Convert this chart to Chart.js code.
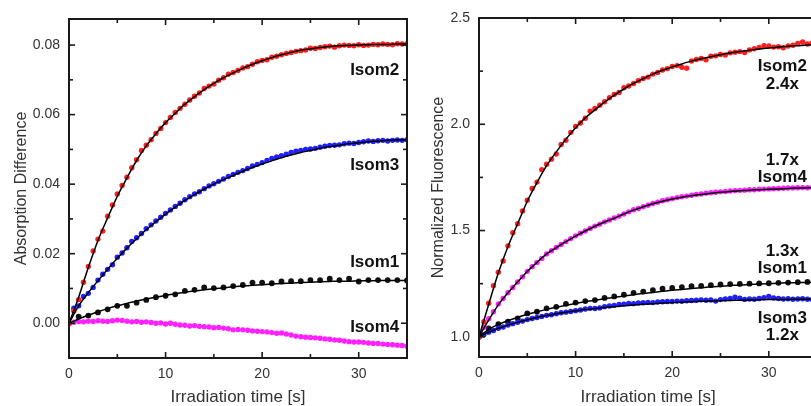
<!DOCTYPE html>
<html>
<head>
<meta charset="utf-8">
<script src="https://cdn.jsdelivr.net/npm/chart.js@4.4.1/dist/chart.umd.min.js"></script>
<style>
  html, body { margin:0; padding:0; background:#fff; }
  #wrap { position:relative; width:811px; height:406px; overflow:hidden; background:#fff; }
  #c1 { position:absolute; left:0; top:0; }
  #c2 { position:absolute; left:410px; top:0; }
</style>
</head>
<body>
<div id="wrap">
  <canvas id="c1" width="410" height="406"></canvas>
  <canvas id="c2" width="410" height="406"></canvas>
</div>
<script>
// ---------- sampling times (s) ----------
const tDense = [0,0.5,1,1.5,2,2.5,3,3.5,4,4.5,5,5.5,6,6.5,7,7.5,8,8.5,9,9.5,10,10.5,11,11.5,12,12.5,13,13.5,14,14.5,15,15.5,16,16.5,17,17.5,18,18.5,19,19.5,20,20.5,21,21.5,22,22.5,23,23.5,24,24.5,25,25.5,26,26.5,27,27.5,28,28.5,29,29.5,30,30.5,31,31.5,32,32.5,33,33.5,34,34.5,35];
const tSparse = [0,1,2,3,4,5,6,7,8,9,10,11,12,13,14,15,16,17,18,19,20,21,22,23,24,25,26,27,28,29,30,31,32,33,34,35];

// ---------- left panel: absorption difference ----------
const absIsom2 = [0.0000,0.0035,0.0068,0.0118,0.0163,0.0208,0.0242,0.0265,0.0308,0.0340,0.0372,0.0396,0.0420,0.0447,0.0470,0.0497,0.0512,0.0528,0.0546,0.0560,0.0577,0.0592,0.0606,0.0618,0.0630,0.0642,0.0653,0.0662,0.0675,0.0682,0.0688,0.0699,0.0706,0.0716,0.0721,0.0727,0.0734,0.0738,0.0745,0.0752,0.0756,0.0758,0.0765,0.0768,0.0772,0.0776,0.0779,0.0782,0.0784,0.0786,0.0791,0.0790,0.0793,0.0795,0.0797,0.0794,0.0798,0.0800,0.0799,0.0798,0.0801,0.0799,0.0800,0.0802,0.0801,0.0803,0.0802,0.0801,0.0804,0.0803,0.0804];
const absIsom3 = [0.0000,0.0043,0.0050,0.0077,0.0086,0.0103,0.0124,0.0141,0.0155,0.0168,0.0190,0.0202,0.0217,0.0235,0.0246,0.0258,0.0272,0.0283,0.0294,0.0305,0.0316,0.0326,0.0336,0.0345,0.0355,0.0364,0.0372,0.0378,0.0387,0.0395,0.0401,0.0408,0.0415,0.0422,0.0428,0.0434,0.0439,0.0445,0.0452,0.0457,0.0462,0.0468,0.0474,0.0478,0.0482,0.0486,0.0491,0.0495,0.0497,0.0500,0.0501,0.0503,0.0506,0.0509,0.0511,0.0512,0.0513,0.0516,0.0518,0.0517,0.0520,0.0522,0.0524,0.0523,0.0525,0.0526,0.0524,0.0526,0.0527,0.0526,0.0528];
const absIsom4 = [0.0000,0.0003,0.0005,0.0004,0.0006,0.0005,0.0007,0.0006,0.0005,0.0007,0.0009,0.0008,0.0006,0.0004,0.0005,0.0003,0.0004,0.0002,0.0000,0.0001,-0.0002,0.0000,-0.0003,-0.0005,-0.0006,-0.0008,-0.0007,-0.0009,-0.0010,-0.0011,-0.0013,-0.0012,-0.0014,-0.0016,-0.0019,-0.0018,-0.0019,-0.0020,-0.0022,-0.0023,-0.0024,-0.0025,-0.0027,-0.0029,-0.0028,-0.0031,-0.0034,-0.0037,-0.0039,-0.0040,-0.0041,-0.0042,-0.0043,-0.0045,-0.0046,-0.0048,-0.0049,-0.0051,-0.0053,-0.0054,-0.0054,-0.0055,-0.0057,-0.0058,-0.0058,-0.0060,-0.0061,-0.0062,-0.0063,-0.0064,-0.0066];
const absIsom1 = [0.0000,0.0019,0.0022,0.0031,0.0040,0.0050,0.0050,0.0059,0.0067,0.0075,0.0079,0.0083,0.0093,0.0096,0.0103,0.0101,0.0103,0.0107,0.0110,0.0117,0.0117,0.0115,0.0120,0.0121,0.0121,0.0124,0.0124,0.0128,0.0124,0.0128,0.0120,0.0124,0.0124,0.0124,0.0124,0.0123];
const absFit2 = [0,0.0075,0.0160,0.0238,0.0303,0.0365,0.0418,0.0468,0.0510,0.0545,0.0577,0.0604,0.0630,0.0652,0.0672,0.0690,0.0706,0.0720,0.0733,0.0745,0.0755,0.0764,0.0772,0.0779,0.0785,0.0789,0.0793,0.0796,0.0798,0.0799,0.0800,0.0801,0.0802,0.0802,0.0803,0.0803];
const absFit3 = [0,0.0050,0.0088,0.0122,0.0155,0.0187,0.0216,0.0243,0.0269,0.0292,0.0314,0.0334,0.0353,0.0370,0.0386,0.0400,0.0413,0.0425,0.0437,0.0448,0.0458,0.0467,0.0476,0.0484,0.0491,0.0497,0.0503,0.0508,0.0512,0.0516,0.0519,0.0522,0.0524,0.0526,0.0527,0.0528];
const absFit1 = [0,0.0012,0.0023,0.0033,0.0042,0.0050,0.0057,0.0064,0.0070,0.0075,0.0080,0.0085,0.0089,0.0093,0.0096,0.0099,0.0102,0.0105,0.0107,0.0109,0.0111,0.0113,0.0114,0.0116,0.0117,0.0118,0.0119,0.0120,0.0121,0.0121,0.0122,0.0122,0.0123,0.0123,0.0123,0.0123];

// ---------- right panel: normalized fluorescence ----------
const flIsom2 = [1.000,1.071,1.158,1.240,1.304,1.357,1.428,1.490,1.532,1.592,1.643,1.698,1.728,1.786,1.812,1.836,1.860,1.905,1.925,1.962,1.990,2.006,2.028,2.062,2.074,2.090,2.106,2.125,2.140,2.150,2.172,2.180,2.192,2.205,2.215,2.222,2.236,2.244,2.255,2.262,2.272,2.276,2.268,2.264,2.298,2.305,2.310,2.303,2.320,2.322,2.328,2.326,2.336,2.339,2.342,2.338,2.350,2.355,2.362,2.370,2.368,2.363,2.365,2.360,2.368,2.372,2.380,2.387,2.378,2.383,2.380];
const flIsom4 = [1.000,1.045,1.085,1.118,1.155,1.180,1.207,1.232,1.258,1.282,1.308,1.330,1.350,1.369,1.390,1.405,1.420,1.434,1.448,1.462,1.475,1.487,1.498,1.510,1.521,1.530,1.541,1.550,1.559,1.568,1.578,1.588,1.598,1.604,1.612,1.619,1.627,1.633,1.640,1.645,1.650,1.655,1.659,1.662,1.666,1.670,1.672,1.676,1.678,1.680,1.682,1.684,1.686,1.688,1.689,1.690,1.692,1.692,1.694,1.695,1.696,1.697,1.698,1.699,1.700,1.700,1.701,1.702,1.701,1.703,1.702];
const flIsom3 = [1.000,1.010,1.022,1.030,1.040,1.046,1.055,1.062,1.068,1.074,1.081,1.086,1.091,1.096,1.101,1.104,1.109,1.113,1.116,1.119,1.123,1.126,1.131,1.134,1.133,1.136,1.142,1.145,1.148,1.152,1.154,1.157,1.156,1.159,1.160,1.162,1.161,1.164,1.165,1.166,1.166,1.168,1.167,1.170,1.171,1.172,1.174,1.172,1.173,1.168,1.175,1.178,1.180,1.186,1.182,1.176,1.178,1.177,1.180,1.184,1.190,1.183,1.180,1.178,1.179,1.177,1.178,1.179,1.177,1.176,1.177];
const flIsom1 = [1.000,1.040,1.060,1.071,1.087,1.110,1.118,1.134,1.141,1.155,1.161,1.168,1.173,1.183,1.190,1.198,1.207,1.213,1.220,1.226,1.230,1.234,1.238,1.240,1.243,1.246,1.248,1.249,1.250,1.251,1.252,1.254,1.255,1.257,1.258,1.258];
const flFit2 = [1.000,1.152,1.300,1.425,1.532,1.638,1.725,1.805,1.870,1.930,1.984,2.030,2.068,2.104,2.137,2.166,2.192,2.215,2.236,2.254,2.270,2.284,2.297,2.308,2.318,2.327,2.335,2.342,2.348,2.354,2.359,2.363,2.367,2.370,2.373,2.375];
const flFit4 = [1.000,1.078,1.150,1.207,1.258,1.307,1.350,1.390,1.420,1.448,1.474,1.498,1.520,1.540,1.558,1.578,1.596,1.612,1.626,1.638,1.648,1.657,1.664,1.670,1.675,1.680,1.684,1.687,1.690,1.692,1.694,1.696,1.698,1.700,1.701,1.702];
const flFit1 = [1.000,1.035,1.058,1.076,1.092,1.106,1.118,1.129,1.139,1.148,1.157,1.165,1.172,1.179,1.186,1.192,1.198,1.204,1.209,1.214,1.219,1.223,1.227,1.231,1.235,1.238,1.241,1.244,1.246,1.248,1.250,1.252,1.254,1.255,1.256,1.257];
const flFit3 = [1.000,1.022,1.040,1.055,1.068,1.080,1.091,1.100,1.108,1.116,1.122,1.128,1.133,1.138,1.142,1.146,1.150,1.153,1.156,1.159,1.161,1.163,1.165,1.167,1.169,1.170,1.171,1.172,1.173,1.174,1.175,1.176,1.176,1.177,1.177,1.178];

// ---------- tick labels ----------
const xTicks = [0,10,20,30];
const xMinor = [5,15,25,35];
const absTicks = [0.00,0.02,0.04,0.06,0.08];
const absMinor = [-0.01,0.01,0.03,0.05,0.07];
const flTicks = [1.0,1.5,2.0,2.5];
const flMinor = [1.25,1.75,2.25];

const FONT = "'Liberation Sans', Arial, Helvetica, sans-serif";
const RED = '#ff1f1f', BLUE = '#1f1fff', MAG = '#ff1fff', BLK = '#111111';

function pts(xs, ys){ return ys.map((v,i)=>({x:xs[i], y:v})); }
function dots(xs, ys, color, r){
  return { data: pts(xs,ys), showLine:false, pointRadius:r||2.7, pointHoverRadius:0,
           pointBackgroundColor:color, pointBorderColor:color, pointBorderWidth:0, order:2 };
}
function fit(xs, ys){
  return { data: pts(xs,ys), showLine:true, pointRadius:0, borderColor:'#000', borderWidth:1.5,
           cubicInterpolationMode:'monotone', fill:false, order:1 };
}

const framePlugin = {
  id:'frame',
  afterDatasetsDraw(chart, args, o){
    const {ctx, chartArea:{left,right,top,bottom}, scales:{x,y}} = chart;
    ctx.save();
    ctx.strokeStyle = '#1a1a1a';
    ctx.lineWidth = 2;
    ctx.strokeRect(left, top, right-left, bottom-top);
    ctx.lineWidth = 1.6;
    const seg = (a,b,c,d)=>{ ctx.beginPath(); ctx.moveTo(a,b); ctx.lineTo(c,d); ctx.stroke(); };
    o.xMajor.forEach(v=>{ const p=x.getPixelForValue(v); if(p>left+1&&p<right-1){ seg(p,bottom,p,bottom-6); seg(p,top,p,top+6);} });
    o.xMinor.forEach(v=>{ const p=x.getPixelForValue(v); if(p>left+1&&p<right-1){ seg(p,bottom,p,bottom-4); seg(p,top,p,top+4);} });
    o.yMajor.forEach(v=>{ const p=y.getPixelForValue(v); if(p>top+1&&p<bottom-1){ seg(left,p,left+6,p); seg(right,p,right-6,p);} });
    o.yMinor.forEach(v=>{ const p=y.getPixelForValue(v); if(p>top+1&&p<bottom-1){ seg(left,p,left+4,p); seg(right,p,right-4,p);} });
    // labels
    ctx.fillStyle = '#111';
    ctx.font = "bold 17px " + FONT;
    ctx.textAlign = o.align;
    ctx.textBaseline = 'middle';
    o.labels.forEach(l=>{
      const px = x.getPixelForValue(l.t);
      l.lines.forEach((s,i)=>{ ctx.fillText(s, px, y.getPixelForValue(l.v[i])); });
    });
    ctx.restore();
  }
};

function makeChart(id, datasets, yMin, yMax, yTicks, yMinor, yTitle, titlePad, digits, labels, align, padTop, padRight, xH){
  return new Chart(document.getElementById(id), {
    type:'scatter',
    data:{ datasets },
    options:{
      responsive:false, animation:false, devicePixelRatio:1,
      layout:{ padding:{ top:padTop, right:padRight, left:0, bottom:0 } },
      plugins:{ legend:{display:false}, tooltip:{enabled:false},
        frame:{ xMajor:xTicks, xMinor:xMinor, yMajor:yTicks, yMinor:yMinor, labels, align } },
      scales:{
        x:{ type:'linear', min:0, max:35,
            afterBuildTicks:(s)=>{ s.ticks = xTicks.map(v=>({value:v})); },
            afterFit:(s)=>{ s.height = xH; },
            grid:{display:false, drawTicks:false}, border:{display:false},
            ticks:{ color:'#333', font:{family:FONT, size:14}, padding:8, maxRotation:0, autoSkip:false,
                    callback:(v)=>String(v) },
            title:{ display:true, text:'Irradiation time [s]', color:'#333', font:{family:FONT, size:17, lineHeight:1.0}, padding:{top:0,bottom:0} } },
        y:{ type:'linear', min:yMin, max:yMax,
            afterBuildTicks:(s)=>{ s.ticks = yTicks.map(v=>({value:v})); },
            afterFit:(s)=>{ s.width = 69; },
            grid:{display:false, drawTicks:false}, border:{display:false},
            ticks:{ color:'#333', font:{family:FONT, size:14}, padding:9, autoSkip:false,
                    callback:(v)=>Number(v).toFixed(digits) },
            title:{ display:true, text:yTitle, color:'#333', font:{family:FONT, size:16}, padding:{top:titlePad,bottom:0} } }
      }
    },
    plugins:[framePlugin]
  });
}

makeChart('c1', [
    fit(tSparse, absFit2), fit(tSparse, absFit3), fit(tSparse, absFit1),
    dots(tDense, absIsom2, RED), dots(tDense, absIsom3, BLUE), dots(tDense, absIsom4, MAG),
    dots(tSparse, absIsom1, BLK, 2.9)
  ], -0.01, 0.0875, absTicks, absMinor, 'Absorption Difference', 12, 2,
  [ {t:34.2, lines:['Isom2'], v:[0.0727]},
    {t:34.2, lines:['Isom3'], v:[0.0455]},
    {t:34.2, lines:['Isom1'], v:[0.0175]},
    {t:34.2, lines:['Isom4'], v:[-0.0012]} ], 'right', 19, 3, 48);

makeChart('c2', [
    fit(tSparse, flFit2), fit(tSparse, flFit4), fit(tSparse, flFit1), fit(tSparse, flFit3),
    dots(tDense, flIsom2, RED), dots(tDense, flIsom4, MAG), dots(tDense, flIsom3, BLUE),
    dots(tSparse, flIsom1, BLK, 2.9)
  ], 0.905, 2.5, flTicks, flMinor, 'Normalized Fluorescence', 19, 1,
  [ {t:31.4, lines:['Isom2','2.4x'], v:[2.272, 2.187]},
    {t:31.4, lines:['1.7x','Isom4'], v:[1.830, 1.751]},
    {t:31.4, lines:['1.3x','Isom1'], v:[1.400, 1.320]},
    {t:31.4, lines:['Isom3','1.2x'], v:[1.088, 1.005]} ], 'center', 18, 2, 49);
</script>
</body>
</html>
